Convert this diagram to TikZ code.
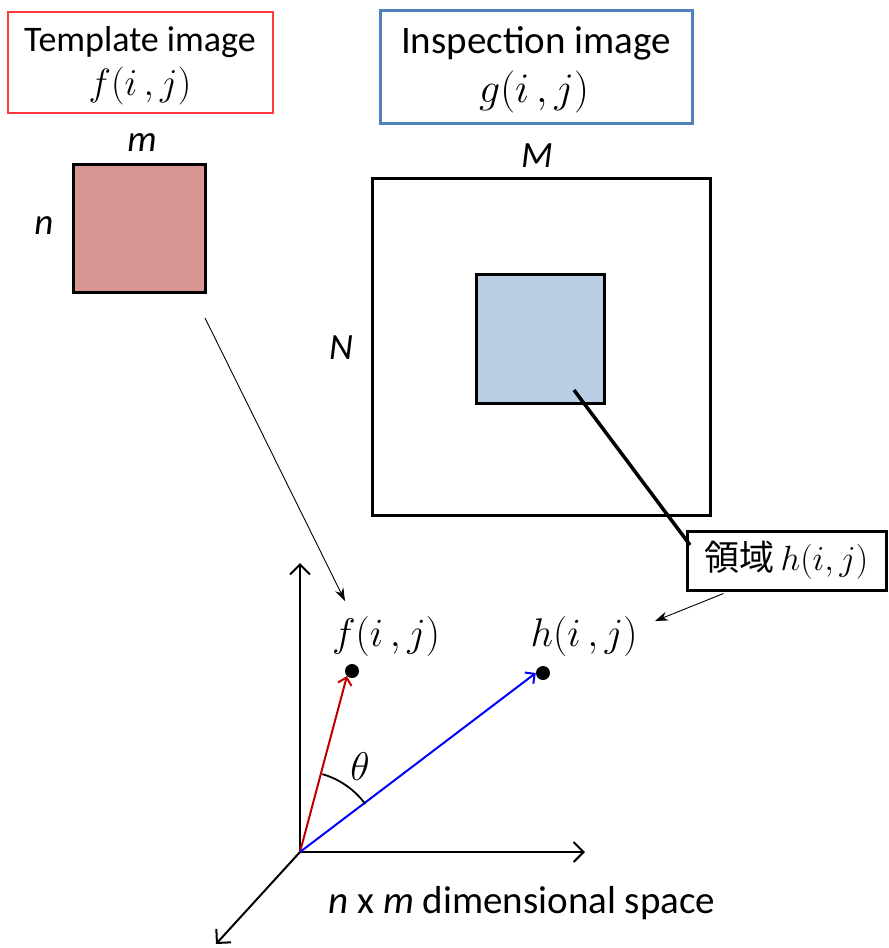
\documentclass[tikz,border=0pt]{standalone}
\usepackage{fix-cm}
\usepackage{fontspec}
\setmainfont{Carlito}
\newfontfamily\cjkfont{Noto Sans CJK JP}
\usetikzlibrary{arrows.meta,calc}
\definecolor{tplred}{HTML}{FF3B3B}
\definecolor{insblue}{HTML}{4F81BD}
\definecolor{tplfill}{HTML}{D99594}
\definecolor{insfill}{HTML}{B9CDE5}
\definecolor{vecred}{HTML}{C00000}
\definecolor{vecblue}{HTML}{0000FF}
\tikzset{
  titlebox/.style={draw, inner sep=0pt},
  txt/.style={inner sep=0pt},
  imgsq/.style={draw=black, line width=3pt, inner sep=0pt},
  dimlabel/.style={font=\fontsize{37}{40}\selectfont\itshape, inner sep=0pt},
  axis/.style={line width=2pt, -{Straight Barb[length=10pt,width=20pt,line width=2pt]}},
  vec/.style={line width=2pt, -{Straight Barb[length=7pt,width=14pt,line width=2pt]}},
  thinarrow/.style={line width=0.9pt, -{Stealth[length=13pt,width=9pt]}},
  ptlabel/.style={font=\fontsize{40}{44}\selectfont, inner sep=0pt},
  dot/.style={circle, fill=black, inner sep=0pt, minimum size=14pt}
}
\begin{document}
\begin{tikzpicture}[x=1pt,y=-1pt]
\useasboundingbox (0,0) rectangle (889,948);
% title boxes
\node[titlebox, draw=tplred, line width=1.2pt, minimum width=265pt, minimum height=101pt] (tpl) at (140.5,62.5) {};
\node[txt, font=\fontsize{36}{40}\selectfont] (tplt) at (140,42) {Template image};
\node[txt, font=\fontsize{38}{40}\selectfont] (tplf) at (140,86) {$f(i\,,j)$};
\node[titlebox, draw=insblue, line width=3pt, minimum width=312pt, minimum height=113pt] (ins) at (536,66.5) {};
\node[txt, font=\fontsize{39}{42}\selectfont] (inst) at (536,43) {Inspection image};
\node[txt, font=\fontsize{42}{44}\selectfont] (insf) at (534,92) {$g(i\,,j)$};
% template square
\node[imgsq, fill=tplfill, minimum width=132pt, minimum height=128pt] (tsq) at (139,228) {};
\node[dimlabel] (mlab) at (142,143) {m};
\node[dimlabel] (nlab) at (44,226) {n};
% inspection square
\node[imgsq, minimum width=338pt, minimum height=337pt] (isq) at (541,346.5) {};
\node[imgsq, fill=insfill, minimum width=128pt, minimum height=129pt] (reg) at (540,338.5) {};
\node[dimlabel] (Mlab) at (537,156) {M};
\node[dimlabel] (Nlab) at (341,348) {N};
% region label
\node[draw, line width=3pt, minimum width=199pt, minimum height=59pt, inner sep=0pt] (regl) at (786.5,560.5)
  {\fontsize{35}{35}\selectfont{\cjkfont 領域}\,$h(i,j)$};
\coordinate (regc) at (574,390);
\draw[line width=3.5pt] (regc) -- (690,545);
% axes
\coordinate (O) at (300,852);
\coordinate (ax1) at (300,563);
\coordinate (ax2) at (585,852);
\coordinate (ax3) at (216,944);
\draw[axis] (O) -- (ax1);
\draw[axis] (O) -- (ax2);
\draw[axis] (O) -- (ax3);
% points
\node[dot] (fdot) at (352,671) {};
\node[dot] (hdot) at (543,673) {};
\node[ptlabel] (flab) at (386,636) {$f(i\,,j)$};
\node[ptlabel] (hlab) at (584,636) {$h(i\,,j)$};
\draw[vec, vecred] (O) -- (fdot.south west);
\draw[vec, vecblue] (O) -- (hdot.west);
% angle
\draw[line width=1.8pt] ($(O)+(74:81pt)$) arc[start angle=74, end angle=36.4, radius=81pt];
\node[ptlabel] (theta) at (360,767) {$\theta$};
% thin arrows
\coordinate (tstart) at (205,318);
\draw[thinarrow] (tstart) -- (345,601);
\draw[thinarrow] ($(regl.south)+(-63,2)$) -- (655,621);
% caption
\node[font=\fontsize{39}{42}\selectfont, inner sep=0pt] (cap) at (522,903) {\textit{n} x \textit{m} dimensional space};
\end{tikzpicture}
\end{document}
